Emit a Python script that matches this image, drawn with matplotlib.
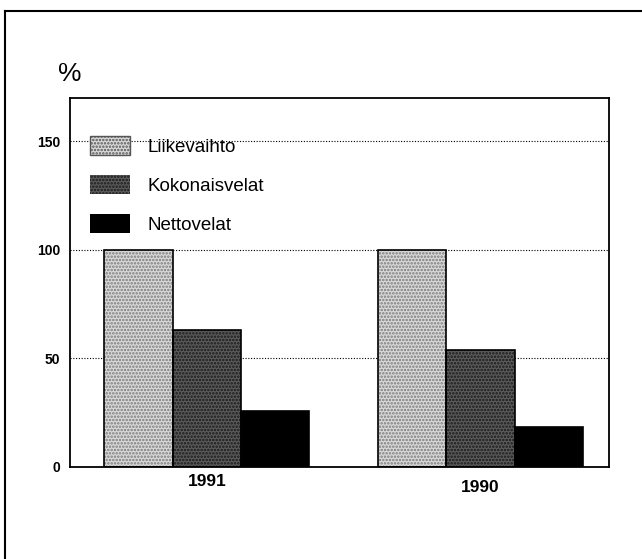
import matplotlib
matplotlib.use("Agg")
import matplotlib.pyplot as plt
import matplotlib.transforms as mtransforms
from matplotlib.patches import Patch
from matplotlib.lines import Line2D
import numpy as np

plt.rcParams['font.family'] = ['Liberation Sans', 'DejaVu Sans']

categories = ["1991", "1990"]
series_names = ["Liikevaihto", "Kokonaisvelat", "Nettovelat"]
liikevaihto = [100, 100]
kokonaisvelat = [63, 54]
nettovelat = [26, 18.5]
yticks = [0, 50, 100, 150]

W, H = 642, 559
fig = plt.figure(figsize=(W / 100, H / 100), dpi=100)
ax = fig.add_axes([70 / W, 1 - 467 / H, (609 - 70) / W, (467 - 98) / H])

styles = [
    dict(face='#d9d9d9', hatch='.....', hcol='#7a7a7a'),
    dict(face='#5a5a5a', hatch='.....', hcol='#1a1a1a'),
    dict(face='black', hatch=None, hcol='black'),
]
values = [liikevaihto, kokonaisvelat, nettovelat]
x = np.arange(len(categories))
bw = 0.25
plt.rcParams['hatch.linewidth'] = 1.2
for i, (vals, st) in enumerate(zip(values, styles)):
    pos = x + (i - 1) * bw
    ax.bar(pos, vals, bw, color=st['face'], hatch=st['hatch'],
           edgecolor=st['hcol'], linewidth=0, zorder=2)
    ax.bar(pos, vals, bw, fill=False, edgecolor='black', linewidth=1.2, zorder=3)

ax.set_xlim(-0.5, 1.47)
ax.set_ylim(0, 170)
ax.set_yticks(yticks)
ax.set_yticklabels([str(t) for t in yticks], fontsize=10, fontweight='bold')
ax.set_xticks(x)
ax.set_xticklabels(categories, fontsize=12.5, fontweight='bold')
ax.tick_params(axis='both', length=0, pad=7)
ax.tick_params(axis='x', pad=5)
lab = ax.get_xticklabels()[1]
lab.set_transform(lab.get_transform() + mtransforms.ScaledTranslation(0, -6 / 100, fig.dpi_scale_trans))
for t in yticks[1:]:
    ax.axhline(t, color='black', linestyle=(0, (1, 1.5)), linewidth=0.8, zorder=1)
for s in ax.spines.values():
    s.set_linewidth(1.3)

handles = [Patch(facecolor=st['face'], hatch=st['hatch'], edgecolor=st['hcol'], linewidth=0)
           for st in styles]
handles[0] = Patch(facecolor=styles[0]['face'], hatch=styles[0]['hatch'], edgecolor='#555555', linewidth=1.0)
leg = ax.legend(handles, series_names, loc='upper left',
                bbox_to_anchor=(20 / 539, (467 - 136) / 369), frameon=False,
                prop=dict(size=13.5),
                handlelength=2.15, handleheight=1.2,
                labelspacing=1.02, handletextpad=0.9, borderpad=0, borderaxespad=0)

fig.text(58 / W, 1 - 74 / H, "%", fontsize=19, va='center', ha='left')

fig.add_artist(Line2D([5 / W, 1.0], [1 - 11 / H, 1 - 11 / H], color='black', linewidth=1.5))
fig.add_artist(Line2D([5 / W, 5 / W], [1 - 11 / H, 0.0], color='black', linewidth=1.5))

fig.savefig("out.png", dpi=100)
